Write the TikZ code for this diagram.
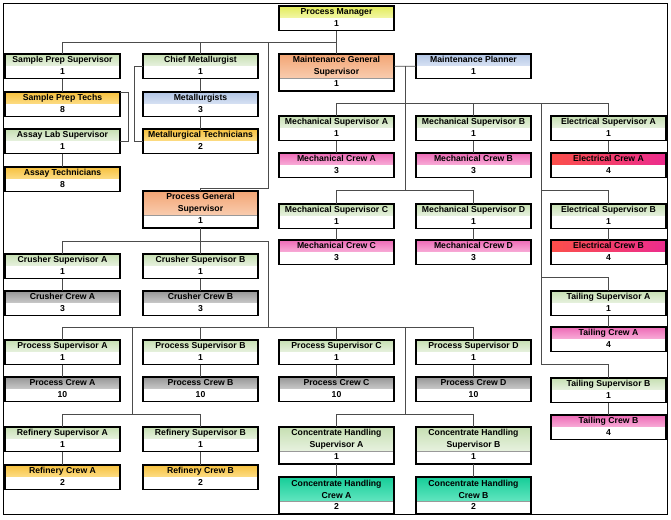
\documentclass[tikz,border=0pt]{standalone}
\usepackage{fontspec}
\setmainfont{Liberation Sans}
\usetikzlibrary{positioning, calc}
\definecolor{pmTop}{HTML}{E2EC5A}
\definecolor{pmBot}{HTML}{F3F7A8}
\definecolor{supTop}{HTML}{C6DFB2}
\definecolor{supBot}{HTML}{E8F2E0}
\definecolor{techTop}{HTML}{F7C13E}
\definecolor{techBot}{HTML}{FDDD86}
\definecolor{blueTop}{HTML}{B3C6E6}
\definecolor{blueBot}{HTML}{D8E2F3}
\definecolor{salmonTop}{HTML}{F3A574}
\definecolor{salmonBot}{HTML}{F9CDB0}
\definecolor{pinkTop}{HTML}{EE6AB6}
\definecolor{pinkBot}{HTML}{F8AED8}
\definecolor{elecLeft}{HTML}{FB4F4A}
\definecolor{elecRight}{HTML}{EC2C8E}
\definecolor{greyTop}{HTML}{969696}
\definecolor{greyBot}{HTML}{CACACA}
\definecolor{tealTop}{HTML}{16CD98}
\definecolor{tealBot}{HTML}{62E6C0}
\newcommand{\orgbox}[5]{%
  \node[head, #3] (#1) at (#2) {#4};
  \node[count, below=0pt of #1] (#1-n) {#5};
  \draw[frame] (#1.north west) rectangle (#1-n.south east);
}

\begin{document}
\begin{tikzpicture}[
  x=0.75pt, y=-0.75pt,
  head/.style={anchor=north west, minimum width=86.25pt, minimum height=9.2pt, inner sep=0pt,
               outer sep=0pt, draw=black!40, line width=0.4pt, align=center,
               font=\bfseries\fontsize{6.5}{9}\selectfont, text height=4.7pt, text depth=1.4pt},
  count/.style={minimum width=86.25pt, minimum height=9.2pt, inner sep=0pt, outer sep=0pt,
                fill=white, font=\bfseries\fontsize{6.5}{9}\selectfont, text height=4.7pt, text depth=1.4pt},
  tall/.style={minimum height=18.45pt, text height=, text depth=},
  frame/.style={draw=black, line width=1.2pt},
  link/.style={draw=black!70, line width=0.6pt},
  pmfill/.style={top color=pmTop, bottom color=pmBot},
  supfill/.style={top color=supTop, bottom color=supBot},
  techfill/.style={top color=techTop, bottom color=techBot},
  bluefill/.style={top color=blueTop, bottom color=blueBot},
  salmonfill/.style={top color=salmonTop, bottom color=salmonBot},
  pinkfill/.style={top color=pinkTop, bottom color=pinkBot},
  elecfill/.style={left color=elecLeft, right color=elecRight},
  greyfill/.style={top color=greyTop, bottom color=greyBot},
  tealfill/.style={top color=tealTop, bottom color=tealBot}
]
\useasboundingbox (0,0) rectangle (671,519);
\draw[black, line width=0.8pt] (3.5,3.5) rectangle (667.5,514.5);

\orgbox{pm}{279,6}{pmfill}{Process Manager}{1}

\orgbox{sps}{5,54}{supfill}{Sample Prep Supervisor}{1}
\orgbox{spt}{5,92}{techfill}{Sample Prep Techs}{8}
\orgbox{als}{5,129}{supfill}{Assay Lab Supervisor}{1}
\orgbox{assay}{5,167}{techfill}{Assay Technicians}{8}

\orgbox{cm}{143,54}{supfill}{Chief Metallurgist}{1}
\orgbox{met}{143,92}{bluefill}{Metallurgists}{3}
\orgbox{mt}{143,129}{techfill}{Metallurgical Technicians}{2}

\orgbox{mgs}{279,54}{salmonfill, tall}{Maintenance General\\Supervisor}{1}
\orgbox{mp}{416,54}{bluefill}{Maintenance Planner}{1}
\orgbox{msa}{279,116}{supfill}{Mechanical Supervisor A}{1}
\orgbox{msb}{416,116}{supfill}{Mechanical Supervisor B}{1}
\orgbox{esa}{551,116}{supfill}{Electrical Supervisor A}{1}
\orgbox{mca}{279,153}{pinkfill}{Mechanical Crew A}{3}
\orgbox{mcb}{416,153}{pinkfill}{Mechanical Crew B}{3}
\orgbox{eca}{551,153}{elecfill}{Electrical Crew A}{4}
\orgbox{msc}{279,204}{supfill}{Mechanical Supervisor C}{1}
\orgbox{msd}{416,204}{supfill}{Mechanical Supervisor D}{1}
\orgbox{esb}{551,204}{supfill}{Electrical Supervisor B}{1}
\orgbox{mcc}{279,240}{pinkfill}{Mechanical Crew C}{3}
\orgbox{mcd}{416,240}{pinkfill}{Mechanical Crew D}{3}
\orgbox{ecb}{551,240}{elecfill}{Electrical Crew B}{4}
\orgbox{tsa}{551,291}{supfill}{Tailing Supervisor A}{1}
\orgbox{tca}{551,327}{pinkfill}{Tailing Crew A}{4}
\orgbox{tsb}{551,378}{supfill}{Tailing Supervisor B}{1}
\orgbox{tcb}{551,415}{pinkfill}{Tailing Crew B}{4}

\orgbox{pgs}{143,191}{salmonfill, tall}{Process General\\Supervisor}{1}
\orgbox{csa}{5,254}{supfill}{Crusher Supervisor A}{1}
\orgbox{csb}{143,254}{supfill}{Crusher Supervisor B}{1}
\orgbox{cca}{5,291}{greyfill}{Crusher Crew A}{3}
\orgbox{ccb}{143,291}{greyfill}{Crusher Crew B}{3}
\orgbox{psa}{5,340}{supfill}{Process Supervisor A}{1}
\orgbox{psb}{143,340}{supfill}{Process Supervisor B}{1}
\orgbox{psc}{279,340}{supfill}{Process Supervisor C}{1}
\orgbox{psd}{416,340}{supfill}{Process Supervisor D}{1}
\orgbox{pca}{5,377}{greyfill}{Process Crew A}{10}
\orgbox{pcb}{143,377}{greyfill}{Process Crew B}{10}
\orgbox{pcc}{279,377}{greyfill}{Process Crew C}{10}
\orgbox{pcd}{416,377}{greyfill}{Process Crew D}{10}
\orgbox{rsa}{5,427}{supfill}{Refinery Supervisor A}{1}
\orgbox{rsb}{143,427}{supfill}{Refinery Supervisor B}{1}
\orgbox{rca}{5,465}{techfill}{Refinery Crew A}{2}
\orgbox{rcb}{143,465}{techfill}{Refinery Crew B}{2}
\orgbox{chsa}{279,427}{supfill, tall}{Concentrate Handling\\Supervisor A}{1}
\orgbox{chsb}{416,427}{supfill, tall}{Concentrate Handling\\Supervisor B}{1}
\orgbox{chca}{279,477}{tealfill, tall}{Concentrate Handling\\Crew A}{2}
\orgbox{chcb}{416,477}{tealfill, tall}{Concentrate Handling\\Crew B}{2}

% buses
\coordinate (topbus) at (336.5,42);
\coordinate (procdrop) at (268.5,42);
\coordinate (mtrunk) at (405,66.3);
\coordinate (mbusa) at (405,103.5);
\coordinate (mbusb) at (405,190.8);
\coordinate (ebus) at (541,103.5);
\coordinate (tbusa) at (541,277.8);
\coordinate (tbusb) at (541,364.8);
\coordinate (pbusa) at (268.5,241);
\coordinate (pbusb) at (268.5,327.8);
\coordinate (rtrunk) at (132,327.8);
\coordinate (rbus) at (132,414);
\coordinate (ctrunk) at (405,327.8);
\coordinate (cbus) at (405,414);

\draw[link] (pm-n.south) -- (mgs.north);
\draw[link] (sps.north) |- (topbus);
\draw[link] (cm.north) -- (cm.north |- topbus);
\draw[link] (pgs.north) -- ++(0,-3) -| (procdrop);

\draw[link] (sps-n.south) -- (spt.north);
\draw[link] (spt.north east) -- ++(8,0) |- (als.south east);
\draw[link] (als-n.south) -- (assay.north);
\draw[link] (cm-n.south) -- (met.north);
\draw[link] (met-n.south) -- (mt.north);
\draw[link] (cm.south west) -- ++(-9,0) |- (mt.south west);

\draw[link] (mgs.east) -- (mp.south west);
\draw[link] (mtrunk) -- (mbusb);
\draw[link] (msa.north) |- (esa.north |- mbusa) -- (esa.north);
\draw[link] (msb.north) -- (msb.north |- mbusa);
\draw[link] (msc.north) |- (msd.north |- mbusb) -- (msd.north);
\draw[link] (ebus) -- (tbusb);
\draw[link] (esb.north) |- (ebus |- mbusb);
\draw[link] (tsa.north) |- (tbusa);
\draw[link] (tsb.north) |- (tbusb);
\draw[link] (msa-n.south) -- (mca.north);
\draw[link] (msb-n.south) -- (mcb.north);
\draw[link] (esa-n.south) -- (eca.north);
\draw[link] (msc-n.south) -- (mcc.north);
\draw[link] (msd-n.south) -- (mcd.north);
\draw[link] (esb-n.south) -- (ecb.north);
\draw[link] (tsa-n.south) -- (tca.north);
\draw[link] (tsb-n.south) -- (tcb.north);

\draw[link] (pgs-n.south) -- (pgs-n.south |- pbusa);
\draw[link] (csa.north) |- (pbusa) -- (pbusb);
\draw[link] (csb.north) -- (csb.north |- pbusa);
\draw[link] (psa.north) |- (psd.north |- pbusb) -- (psd.north);
\draw[link] (psb.north) -- (psb.north |- pbusb);
\draw[link] (psc.north) -- (psc.north |- pbusb);
\draw[link] (rtrunk) -- (rbus);
\draw[link] (rsa.north) |- (rsb.north |- rbus) -- (rsb.north);
\draw[link] (ctrunk) -- (cbus);
\draw[link] (chsa.north) |- (chsb.north |- cbus) -- (chsb.north);
\draw[link] (csa-n.south) -- (cca.north);
\draw[link] (csb-n.south) -- (ccb.north);
\draw[link] (psa-n.south) -- (pca.north);
\draw[link] (psb-n.south) -- (pcb.north);
\draw[link] (psc-n.south) -- (pcc.north);
\draw[link] (psd-n.south) -- (pcd.north);
\draw[link] (rsa-n.south) -- (rca.north);
\draw[link] (rsb-n.south) -- (rcb.north);
\draw[link] (chsa-n.south) -- (chca.north);
\draw[link] (chsb-n.south) -- (chcb.north);
\end{tikzpicture}
\end{document}
